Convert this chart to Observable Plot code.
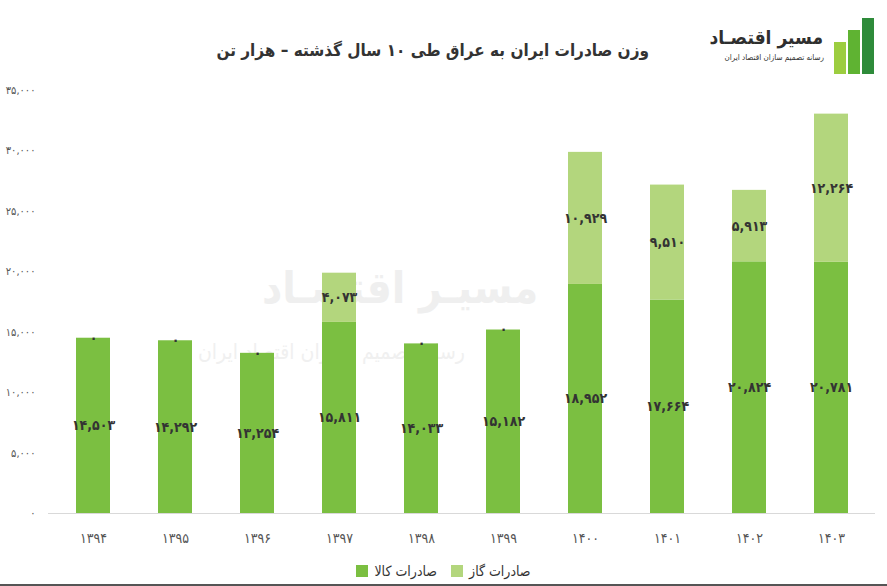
<!DOCTYPE html>
<html>
<head>
<meta charset="utf-8">
<script src="https://cdn.jsdelivr.net/npm/d3@7"></script>
<script src="https://cdn.jsdelivr.net/npm/@observablehq/plot@0.6"></script>
<style>
  html, body { margin: 0; padding: 0; background: #fff; }
  body { width: 887px; height: 586px; position: relative; overflow: hidden;
         font-family: "DejaVu Sans Condensed", "DejaVu Sans", sans-serif; }
  #title { position: absolute; left: 225px; width: 424px; top: 40px; text-align: center;
           font-size: 17px; font-weight: bold; color: #333; direction: rtl; white-space: nowrap; }
  #logo-name { position: absolute; right: 64px; top: 26px; font-size: 19px; font-weight: bold;
               color: #2f2f2f; direction: rtl; white-space: nowrap; }
  #logo-sub { position: absolute; right: 63px; top: 53px; font-size: 8px; color: #333; direction: rtl;
              white-space: nowrap; }
  .lb { position: absolute; bottom: 0; }
  #watermark1 { position: absolute; left: 262px; top: 262px; font-size: 44px; font-weight: bold;
                color: #efefef; direction: rtl; white-space: nowrap; }
  #watermark2 { position: absolute; left: 198px; top: 340px; font-size: 21px;
                color: #f0f0f0; direction: rtl; white-space: nowrap; }
  #chart { position: absolute; left: 0; top: 0; }
  #legend { position: absolute; top: 563px; left: 0; width: 887px; display: flex; justify-content: center;
            gap: 14px; font-size: 14px; color: #333; direction: ltr; }
  #legend .item { display: flex; align-items: center; gap: 6px; }
  #legend .sw { width: 12px; height: 12px; display: inline-block; }
  #bottomline { position: absolute; left: 0; right: 0; bottom: 0; height: 2px; background: #555; }
</style>
</head>
<body>
<div id="watermark1">مسیـر اقتصـاد</div>
<div id="watermark2">رسانه تصمیم سـازان اقتصاد ایران</div>
<div id="chart"></div>
<div id="title">وزن صادرات ایران به عراق طی ۱۰ سال گذشته – هزار تن</div>
<div id="logo-name">مسیر اقتصـاد</div>
<div id="logo-sub">رسانه تصمیم سازان اقتصاد ایران</div>
<div id="logo-icon" style="position:absolute; left:830px; top:10px; width:50px; height:64px;">
  <div class="lb" style="left:4px; width:12px; height:32px; background:#9ccd3f;"></div>
  <div class="lb" style="left:18px; width:12px; height:44px; background:#5fb332;"></div>
  <div class="lb" style="left:32px; width:12px; height:56px; background:#2e8b3a;"></div>
</div>
<div id="legend"></div>
<div id="bottomline"></div>
<script>
const years = ["1394","1395","1396","1397","1398","1399","1400","1401","1402","1403"];
const goods = [14503, 14292, 13254, 15811, 14033, 15182, 18952, 17664, 20824, 20781];
const gas   = [0, 0, 0, 4073, 0, 0, 10929, 9510, 5913, 12264];
const seriesNames = ["صادرات کالا", "صادرات گاز"];
const seriesColors = ["#7bbf41", "#b3d67d"];
const yTicks = [0, 5000, 10000, 15000, 20000, 25000, 30000, 35000];

const faDigits = "۰۱۲۳۴۵۶۷۸۹";
const fa = s => String(s).replace(/\d/g, d => faDigits[d]);
const faNum = v => fa(d3.format(",")(v));

const data = [];
years.forEach((yr, i) => {
  data.push({year: yr, series: seriesNames[0], value: goods[i]});
  data.push({year: yr, series: seriesNames[1], value: gas[i]});
});

const chart = Plot.plot({
  width: 887,
  height: 586,
  marginTop: 90,
  marginBottom: 73,
  marginLeft: 48,
  marginRight: 12,
  style: {background: "transparent", fontFamily: "'DejaVu Sans Condensed', 'DejaVu Sans', sans-serif"},
  x: {domain: years, paddingInner: 0.59, paddingOuter: 0.3, label: null,
      tickSize: 0, tickPadding: 20, tickFormat: fa},
  y: {domain: [0, 35000], ticks: yTicks, label: null, tickSize: 0, tickPadding: 13,
      tickFormat: faNum},
  color: {domain: seriesNames, range: seriesColors},
  marks: [
    Plot.barY(data, {x: "year", y: "value", fill: "series", order: seriesNames}),
    Plot.ruleY([0], {stroke: "#d9d9d9", strokeWidth: 1}),
    Plot.text(data, Plot.stackY({x: "year", y: "value", z: "series", order: seriesNames,
      text: d => faNum(d.value), fill: "#333", fontSize: 14, fontWeight: "bold"}))
  ]
});
const xg = chart.querySelector("g[aria-label='x-axis tick label']");
if (xg) { xg.setAttribute("font-size", "14"); xg.setAttribute("fill", "#555"); }
const yg = chart.querySelector("g[aria-label='y-axis tick label']");
if (yg) { yg.setAttribute("font-size", "11"); yg.setAttribute("fill", "#555"); }
document.getElementById("chart").appendChild(chart);

const legend = document.getElementById("legend");
seriesNames.forEach((name, i) => {
  const item = document.createElement("div");
  item.className = "item";
  const sw = document.createElement("span");
  sw.className = "sw";
  sw.style.background = seriesColors[i];
  const lab = document.createElement("span");
  lab.textContent = name;
  lab.style.direction = "rtl";
  item.appendChild(sw);
  item.appendChild(lab);
  legend.appendChild(item);
});
</script>
</body>
</html>
